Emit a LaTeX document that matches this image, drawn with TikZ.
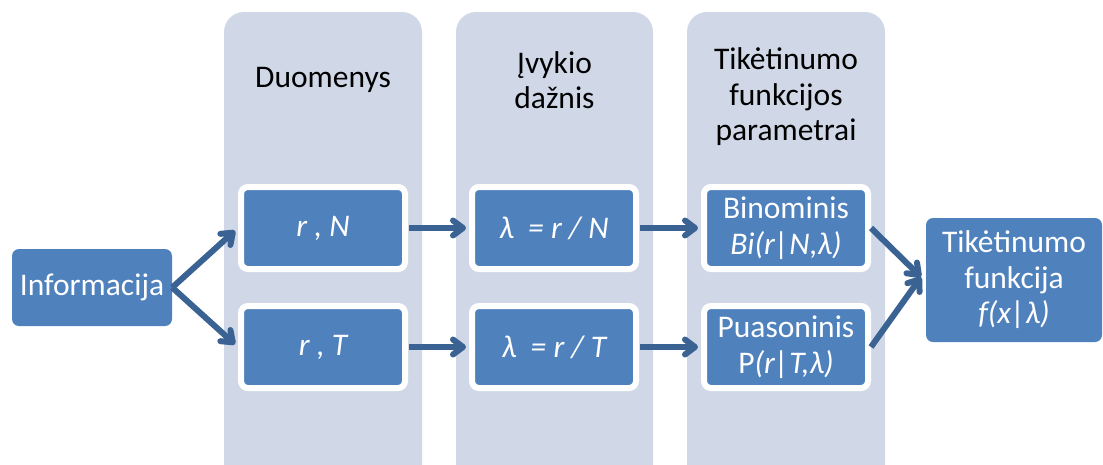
\documentclass[tikz,border=0pt]{standalone}
\usepackage{fontspec}
\setmainfont{Carlito}
\usetikzlibrary{arrows.meta}
\definecolor{panel}{HTML}{D0D8E8}
\definecolor{boxblue}{HTML}{4F81BD}
\definecolor{arrowblue}{HTML}{3A6394}

\begin{document}
\begin{tikzpicture}[x=1pt,y=-1pt,
  font=\fontsize{31.5}{35.5}\selectfont,
  panelbox/.style={fill=panel, rounded corners=20pt},
  stagebox/.style={fill=boxblue, draw=white, line width=6pt, rounded corners=7pt,
    minimum width=164pt, minimum height=82pt, text=white, align=center, inner sep=0pt},
  endbox/.style={fill=boxblue, rounded corners=7pt, text=white, align=center, inner sep=0pt},
  flow/.style={draw=arrowblue, line width=6pt,
    -{Straight Barb[length=10pt,width=15pt,round]}},
  header/.style={align=center, inner sep=0pt, text=black}
]
\useasboundingbox (0,0) rectangle (1103,464);
\clip (0,0) rectangle (1103,464);

% background columns
\fill[panelbox] (224,12) rectangle (422,520);
\fill[panelbox] (456,12) rectangle (653,520);
\fill[panelbox] (687,12) rectangle (885,520);

% column headings
\node[header] (h1) at (323,80) {Duomenys};
\node[header] (h2) at (554.5,80) {Įvykio\\dažnis};
\node[header] (h3) at (786,97) {Tikėtinumo\\funkcijos\\parametrai};

% stage boxes
\node[stagebox] (d1) at (323,228) {\itshape r , N};
\node[stagebox] (d2) at (323,347) {\itshape r , T};
\node[stagebox] (l1) at (554,228) {\itshape λ\ \ = r / N};
\node[stagebox] (l2) at (554,347) {\itshape λ\ \ = r / T};
\node[stagebox] (p1) at (786,228) {Binominis\\\itshape Bi(r|N,λ)};
\node[stagebox] (p2) at (786,347) {Puasoninis\\P\itshape(r|T,λ)};

% source and result
\node[endbox, minimum width=160pt, minimum height=77pt] (inf) at (92,287.5) {Informacija};
\node[endbox, minimum width=176pt, minimum height=124pt] (fin) at (1014,280)
  {Tikėtinumo\\funkcija\\\itshape f(x|λ)};
% meeting point of the two incoming arrows
\coordinate (join) at (921,277);

% connectors
\draw[flow, shorten >=4pt] (inf.east) -- (d1.west);
\draw[flow, shorten >=4pt] (inf.east) -- (d2.west);
\draw[flow, shorten <=1pt, shorten >=3pt] (d1.east) -- (l1.west);
\draw[flow, shorten <=1pt, shorten >=3pt] (d2.east) -- (l2.west);
\draw[flow, shorten <=1pt, shorten >=3pt] (l1.east) -- (p1.west);
\draw[flow, shorten <=1pt, shorten >=3pt] (l2.east) -- (p2.west);
\draw[flow] (p1.east) -- (join);
\draw[flow] (p2.east) -- (join);
\end{tikzpicture}
\end{document}
